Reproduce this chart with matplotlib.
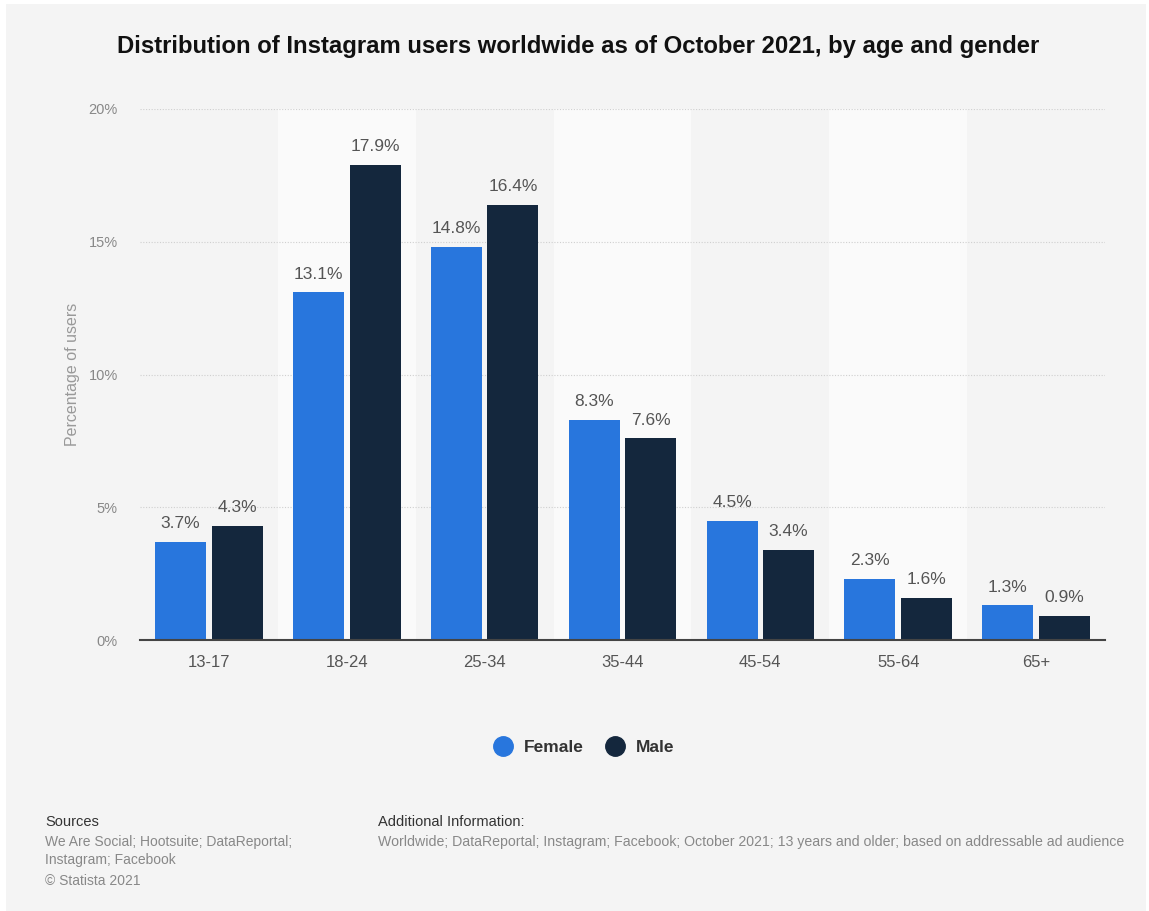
import matplotlib.pyplot as plt
import numpy as np
from matplotlib.patches import Rectangle
from matplotlib.lines import Line2D

plt.rcParams['font.family'] = ['Liberation Sans', 'DejaVu Sans']

# data
ages = ['13-17', '18-24', '25-34', '35-44', '45-54', '55-64', '65+']
female = [3.7, 13.1, 14.8, 8.3, 4.5, 2.3, 1.3]
male = [4.3, 17.9, 16.4, 7.6, 3.4, 1.6, 0.9]
yticks = [0, 5, 10, 15, 20]

fig = plt.figure(figsize=(11.49, 9.11), dpi=100)
fig.patch.set_facecolor('white')
# grey card
fig.patches.append(Rectangle((6/1149, 0), 1 - 9/1149, 1 - 4/911, transform=fig.transFigure,
                             facecolor='#f4f4f4', edgecolor='none', zorder=-5))

ax = fig.add_axes([140/1149, 1 - 640/911, 965/1149, 531/911])
ax.set_facecolor('none')
x = np.arange(len(ages))
w = 0.37
off = 0.205

# alternating column bands
for i in range(len(ages)):
    if i % 2 == 1:
        ax.axvspan(i - 0.5, i + 0.5, color='#fafafa', zorder=0, lw=0)

for t in yticks[1:]:
    ax.axhline(t, color='#cfcfcf', lw=0.8, ls=(0, (1, 1.5)), zorder=1)

ax.bar(x - off, female, w, color='#2876dd', zorder=2)
ax.bar(x + off, male, w, color='#14273d', zorder=2)

for xs, vals in ((x - off, female), (x + off, male)):
    for xi, v in zip(xs, vals):
        ax.text(xi, v + 0.4, f'{v:.1f}%', ha='center', va='bottom',
                fontsize=12.5, color='#555555')

ax.set_xlim(-0.5, len(ages) - 0.5)
ax.set_ylim(0, 20)
ax.set_yticks(yticks)
ax.set_yticklabels([f'{t}%' for t in yticks], fontsize=10.5, color='#888888')
ax.set_xticks(x)
ax.set_xticklabels(ages, fontsize=12, color='#555555')
ax.tick_params(axis='y', length=0, pad=16)
ax.tick_params(axis='x', length=0, pad=11)
for s in ['top', 'right', 'left']:
    ax.spines[s].set_visible(False)
ax.spines['bottom'].set_color('#444444')
ax.spines['bottom'].set_linewidth(1.5)
ax.spines['bottom'].set_zorder(3)
ax.set_ylabel('Percentage of users', fontsize=11.5, color='#999999', labelpad=6)

fig.text(578/1149, 1 - 47/911, 'Distribution of Instagram users worldwide as of October 2021, by age and gender',
         ha='center', va='center', fontsize=17.2, fontweight='bold', color='#111111')

# legend
handles = [Line2D([], [], marker='o', ls='none', markersize=14, color='#2876dd'),
           Line2D([], [], marker='o', ls='none', markersize=14, color='#14273d')]
fig.legend(handles, ['Female', 'Male'], loc='center', bbox_to_anchor=(580/1149, 1 - 747/911),
           ncol=2, frameon=False, handletextpad=0.2, columnspacing=0.8,
           prop={'weight': 'bold', 'size': 12.5}, labelcolor='#333333')

# footer
fig.text(45/1149, 1 - 822/911, 'Sources', fontsize=10.5, color='#333333', va='center')
fig.text(45/1149, 1 - 851/911, 'We Are Social; Hootsuite; DataReportal;\nInstagram; Facebook',
         fontsize=10, color='#888888', va='center', linespacing=1.4)
fig.text(45/1149, 1 - 881/911, '\u00a9 Statista 2021', fontsize=10, color='#888888', va='center')
fig.text(378/1149, 1 - 822/911, 'Additional Information:', fontsize=10.5, color='#333333', va='center')
fig.text(378/1149, 1 - 842/911,
         'Worldwide; DataReportal; Instagram; Facebook; October 2021; 13 years and older; based on addressable ad audience',
         fontsize=10.2, color='#888888', va='center')

fig.savefig('out.png', dpi=100)
